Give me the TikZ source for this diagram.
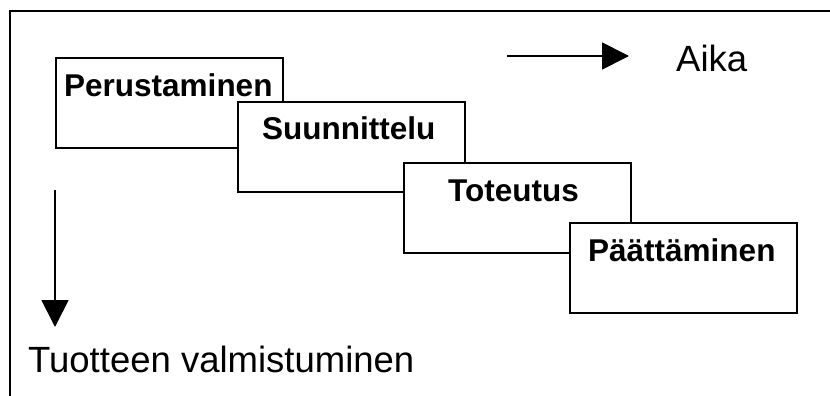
\documentclass[tikz,border=0pt]{standalone}
\usepackage{fontspec}
\setmainfont{Liberation Sans}
\usetikzlibrary{arrows.meta}
\tikzset{
  phase/.style={draw=black, fill=white, line width=1.8pt, minimum width=227pt, minimum height=90pt, inner sep=0pt, anchor=north west},
  phaselabel/.style={anchor=base west, inner sep=0pt, font=\fontsize{31.5}{36}\selectfont\bfseries},
  axislabel/.style={anchor=base west, inner sep=0pt, font=\fontsize{36.5}{40}\selectfont},
  axisarrow/.style={line width=1.8pt, -{Triangle[length=27pt,width=27pt]}},
  frameline/.style={line width=2.2pt}
}
\begin{document}
\begin{tikzpicture}[x=1pt,y=-1pt]
\useasboundingbox (0,0) rectangle (830,396);
\fill[white] (0,0) rectangle (830,396);
\draw[frameline] (10,397) -- (10,11) -- (831,11);

\node[phase] (b1) at (55,57) {};
\node[phaselabel] (t1) at (64,96.5) {Perustaminen};
\node[phase] (b2) at (237,101) {};
\node[phaselabel] (t2) at (262,139) {Suunnittelu};
\node[phase] (b3) at (403,162) {};
\node[phaselabel] (t3) at (448,201) {Toteutus};
\node[phase] (b4) at (569,222) {};
\node[phaselabel] (t4) at (588,261) {Päättäminen};

\coordinate (h0) at (507,56);
\coordinate (h1) at (629,56);
\draw[axisarrow] (h0) -- (h1);
\node[axislabel] (aika) at (676,71) {Aika};

\coordinate (v0) at (55,190);
\coordinate (v1) at (55,327);
\draw[axisarrow] (v0) -- (v1);
\node[axislabel] (tv) at (28,372) {Tuotteen valmistuminen};
\end{tikzpicture}
\end{document}
